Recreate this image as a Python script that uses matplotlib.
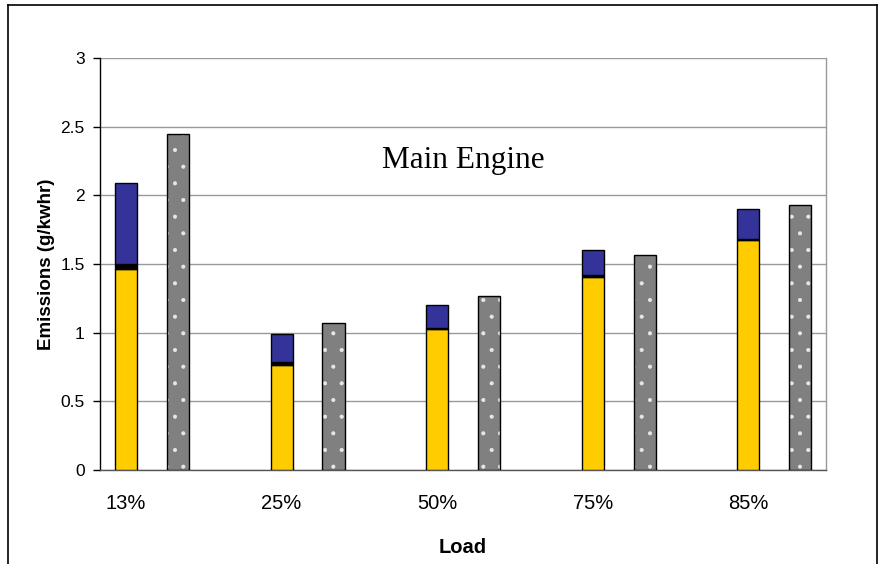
import matplotlib
matplotlib.use("Agg")
import matplotlib.pyplot as plt
from matplotlib.lines import Line2D
import numpy as np

# Engine load categories and emission components (g/kWhr)
loads = ["13%", "25%", "50%", "75%", "85%"]
yellow_part = [1.46, 0.765, 1.025, 1.405, 1.678]
black_part = [0.04, 0.02, 0.006, 0.017, 0.006]
blue_part = [0.59, 0.205, 0.172, 0.183, 0.213]
total_measured = [2.445, 1.073, 1.27, 1.563, 1.926]

plt.rcParams["font.family"] = ["Liberation Sans", "DejaVu Sans"]
plt.rcParams["hatch.linewidth"] = 0.5

fig = plt.figure(figsize=(8.82, 5.64), dpi=100)
ax = fig.add_axes([100 / 882, 1 - 470 / 564, 726 / 882, 412 / 564])

x = np.arange(len(loads))
w = 0.1415
off = 0.334

y_arr = np.array(yellow_part)
k_arr = np.array(black_part)
b_arr = np.array(blue_part)

ax.bar(x, y_arr, w, color="#FFCC00", edgecolor="black", linewidth=1.0, zorder=3)
ax.bar(x, k_arr, w, bottom=y_arr, color="black", edgecolor="black",
       linewidth=1.0, zorder=3)
ax.bar(x, b_arr, w, bottom=y_arr + k_arr, color="#333399", edgecolor="black",
       linewidth=1.0, zorder=3)

# dotted grey bars: fill with light dot hatch, then black outline on top
ax.bar(x + off, total_measured, w, color="#808080", edgecolor="#e8e8e8",
       hatch=".", linewidth=0, zorder=3)
ax.bar(x + off, total_measured, w, fill=False, edgecolor="black",
       linewidth=1.0, zorder=4)

ax.set_xlim(-0.167, 4.5)
ax.set_ylim(0, 3)
ax.set_yticks([0, 0.5, 1, 1.5, 2, 2.5, 3])
ax.set_yticklabels(["0", "0.5", "1", "1.5", "2", "2.5", "3"], fontsize=12.5)
ax.set_xticks(x)
ax.set_xticklabels(loads, fontsize=14.5)
ax.tick_params(axis="x", length=0, pad=17)
ax.tick_params(axis="y", direction="out", length=5, width=1, pad=6)

ax.yaxis.grid(True, color="#999999", linewidth=1.0, zorder=0)
ax.set_axisbelow(True)

ax.spines["top"].set_visible(False)
ax.spines["right"].set_color("#999999")
ax.spines["left"].set_color("black")
ax.spines["bottom"].set_color("#555555")
for s in ax.spines.values():
    s.set_linewidth(1.0)

ax.set_xlabel("Load", fontsize=14.5, fontweight="bold", labelpad=18)
ax.set_ylabel("Emissions (g/kwhr)", fontsize=13.5, fontweight="bold", labelpad=4)

ax.text(0.5, 0.752, "Main Engine", transform=ax.transAxes, ha="center",
        va="center", fontsize=22.5, family=["Liberation Serif", "DejaVu Serif"])

# outer chart frame (left, top, right edges)
fx0, fx1, fy1 = 7.5 / 882, 877 / 882, 1 - 4.5 / 564
fig.add_artist(Line2D([fx0, fx0], [0, fy1], color="black", linewidth=1.2,
                      transform=fig.transFigure))
fig.add_artist(Line2D([fx0, fx1], [fy1, fy1], color="black", linewidth=1.2,
                      transform=fig.transFigure))
fig.add_artist(Line2D([fx1, fx1], [0, fy1], color="black", linewidth=1.2,
                      transform=fig.transFigure))

fig.savefig("out.png", dpi=100)
